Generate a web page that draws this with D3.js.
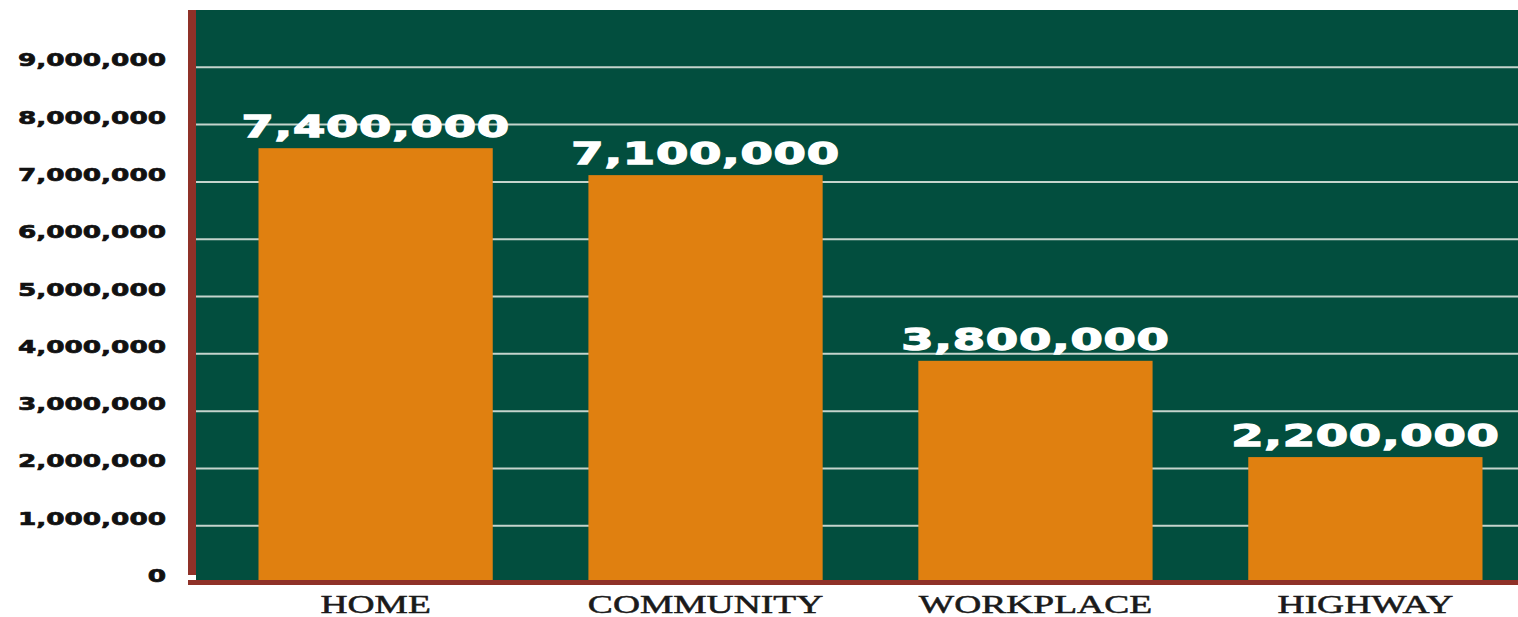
<!DOCTYPE html>
<html>
<head>
<meta charset="utf-8">
<script src="https://cdn.jsdelivr.net/npm/d3@7"></script>
<style>
  html, body { margin: 0; padding: 0; background: #fff; }
  svg { display: block; }
</style>
</head>
<body>
<svg id="chart"></svg>
<script>
'use strict';

// bar heights as drawn, and the numbers printed above them
var categories = ['HOME', 'COMMUNITY', 'WORKPLACE', 'HIGHWAY'];
var values = [7580000, 7110000, 3870000, 2190000];
var valueLabels = ['7,400,000', '7,100,000', '3,800,000', '2,200,000'];
var yTicks = [0, 1000000, 2000000, 3000000, 4000000, 5000000, 6000000, 7000000, 8000000, 9000000];

var W = 1518, H = 617;
var colors = {
  panel: '#024e3e',
  bar: '#e08010',
  border: '#8f3128',
  grid: '#c4d4cc'
};
var panel = { left: 196, right: 1518, top: 10, bottom: 582.6 };

var svg = d3.select('#chart')
  .attr('width', W)
  .attr('height', H);

// set the ranges
var y = d3.scaleLinear()
  .domain([0, 10000000])
  .range([panel.bottom, 9.5]);

var x = d3.scaleBand()
  .domain(categories)
  .range([258.5, 1482.5])
  .paddingInner(0.29)
  .paddingOuter(0);

// green background
svg.append('rect')
  .attr('x', panel.left)
  .attr('y', panel.top)
  .attr('width', panel.right - panel.left)
  .attr('height', panel.bottom - panel.top)
  .attr('fill', colors.panel);

// gridlines
var grid = svg.append('g')
  .attr('transform', 'translate(' + panel.left + ',0)')
  .call(d3.axisLeft(y)
    .tickValues(yTicks.slice(1))
    .tickSize(-(panel.right - panel.left))
    .tickFormat(''));
grid.select('.domain').remove();
grid.selectAll('line')
  .attr('stroke', colors.grid)
  .attr('stroke-width', 2);

// bars
svg.selectAll('.bar')
  .data(values)
  .enter().append('rect')
  .attr('class', 'bar')
  .attr('fill', colors.bar)
  .attr('x', function (d, i) { return x(categories[i]); })
  .attr('width', x.bandwidth())
  .attr('y', function (d) { return y(d); })
  .attr('height', function (d) { return y(0) - y(d); });

// value labels above bars
svg.selectAll('.val')
  .data(values)
  .enter().append('text')
  .attr('class', 'val')
  .attr('transform', function (d, i) {
    return 'translate(' + (x(categories[i]) + x.bandwidth() / 2) + ',' + (y(d) - 11) + ') scale(1.5,1)';
  })
  .attr('text-anchor', 'middle')
  .style('font-family', '"DejaVu Sans", Verdana, sans-serif')
  .style('font-weight', 'bold')
  .style('font-size', '31px')
  .style('letter-spacing', '0.5px')
  .attr('fill', '#fff')
  .attr('stroke', '#fff')
  .attr('stroke-width', 1.3)
  .text(function (d, i) { return valueLabels[i]; });

// red frame, left and bottom
svg.append('rect')
  .attr('x', 188)
  .attr('y', panel.top)
  .attr('width', 8)
  .attr('height', 575 - panel.top)
  .attr('fill', colors.border);
svg.append('rect')
  .attr('x', 188)
  .attr('y', 580)
  .attr('width', W - 188)
  .attr('height', 5)
  .attr('fill', colors.border);

// y axis labels
var yAxis = svg.append('g')
  .attr('transform', 'translate(166,0)')
  .call(d3.axisLeft(y)
    .tickValues(yTicks)
    .tickSize(0)
    .tickPadding(0)
    .tickFormat(d3.format(',')));
yAxis.select('.domain').remove();
yAxis.selectAll('text')
  .attr('x', 0)
  .attr('y', -1)
  .attr('dy', 0)
  .attr('transform', 'scale(1.43,1)')
  .attr('text-anchor', 'end')
  .attr('fill', '#111')
  .attr('stroke', '#111')
  .attr('stroke-width', 0.7)
  .style('font-family', '"DejaVu Sans", Verdana, sans-serif')
  .style('font-weight', 'bold')
  .style('font-size', '18.4px');

// category labels
svg.selectAll('.cat')
  .data(categories)
  .enter().append('text')
  .attr('class', 'cat')
  .attr('transform', function (d) {
    return 'translate(' + (x(d) + x.bandwidth() / 2) + ',613) scale(1.5,1)';
  })
  .attr('text-anchor', 'middle')
  .style('font-family', '"Liberation Serif", "Times New Roman", serif')
  .style('font-size', '25px')
  .attr('fill', '#1a1a1a')
  .attr('stroke', '#1a1a1a')
  .attr('stroke-width', 0.5)
  .text(function (d) { return d; });
</script>
</body>
</html>
